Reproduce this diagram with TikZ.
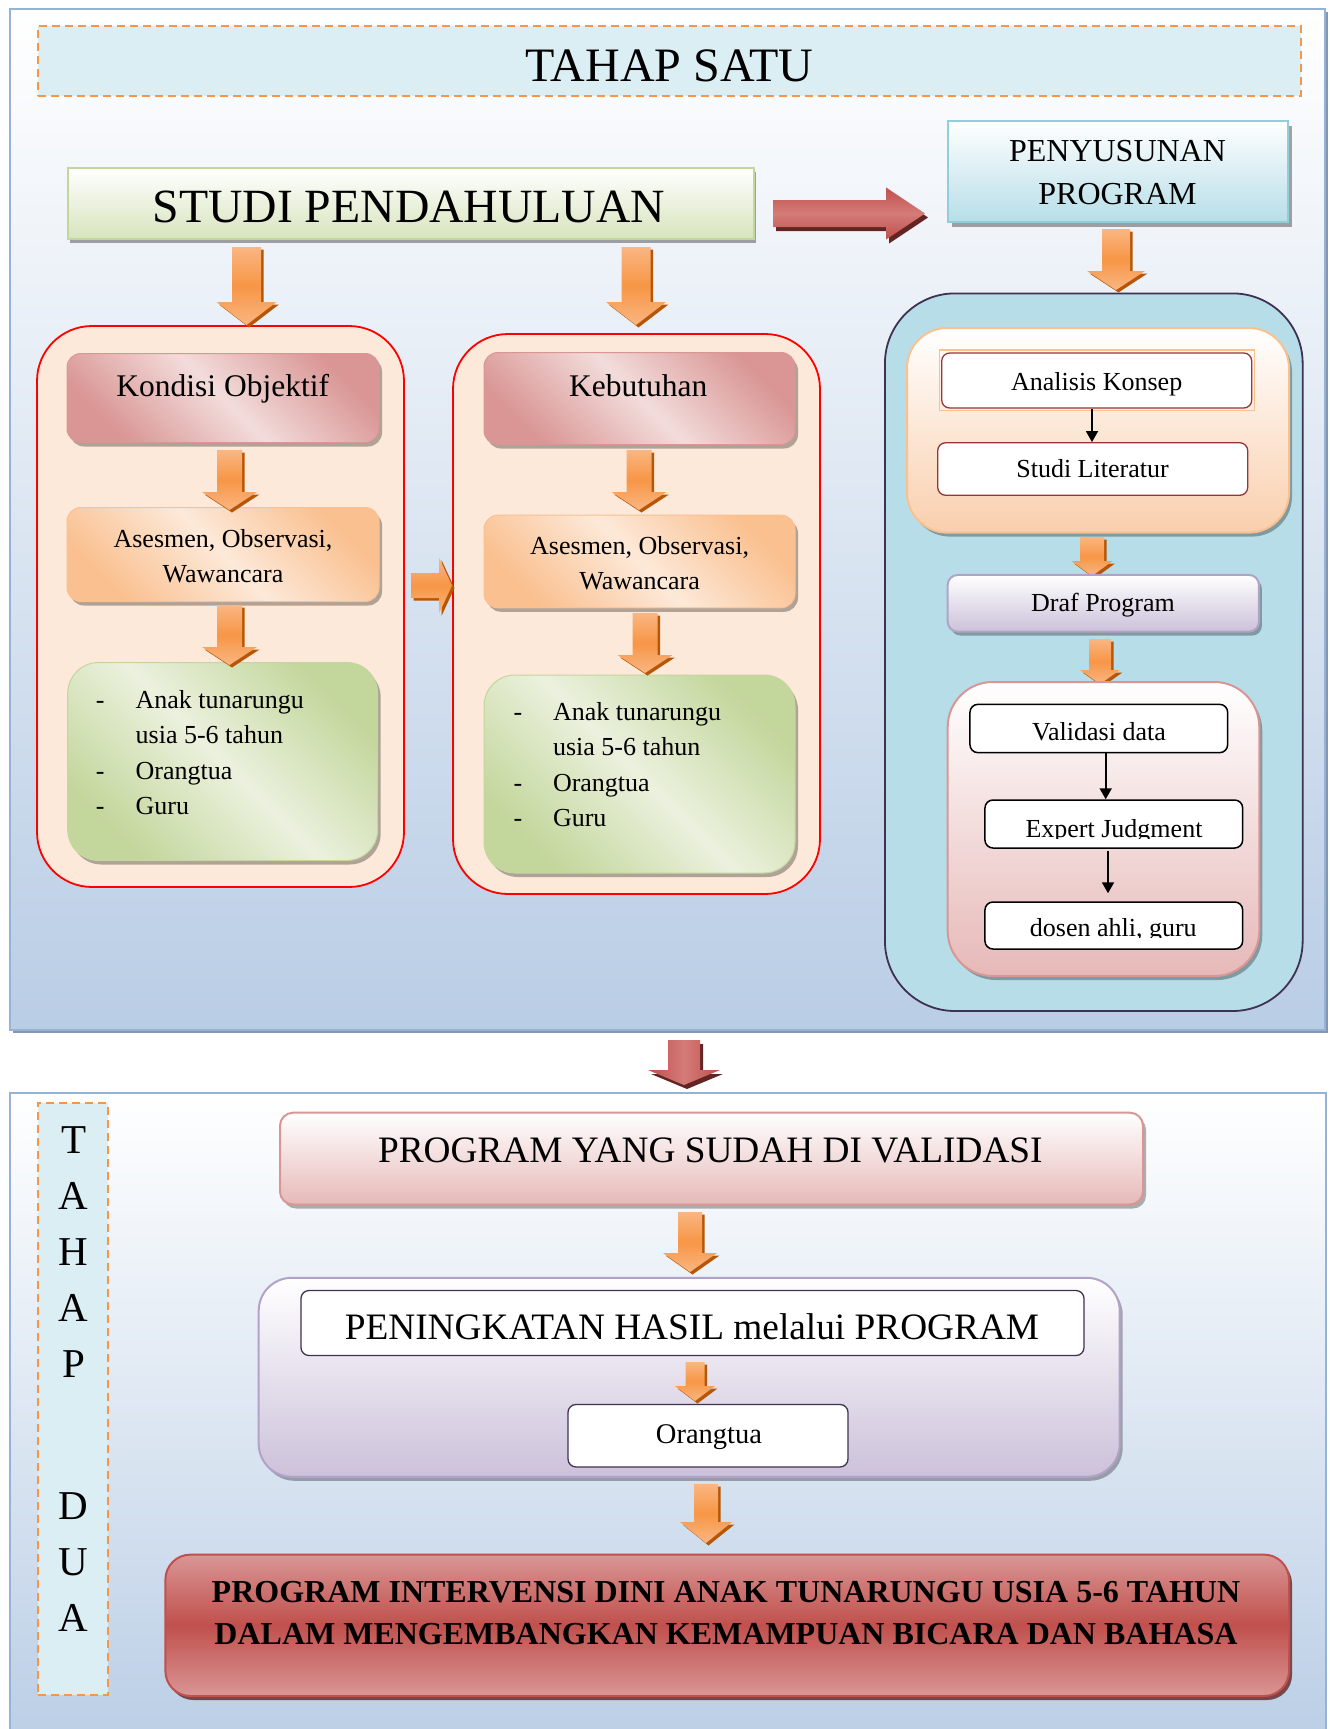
\documentclass[tikz,border=0pt]{standalone}
\usepackage{fontspec}
\setmainfont{Liberation Serif}
\usetikzlibrary{shadows,arrows.meta,calc}
\definecolor{cB9CDE5}{HTML}{B9CDE5}
\definecolor{c95B3D7}{HTML}{95B3D7}
\definecolor{c7F93AE}{HTML}{8397B2}
\definecolor{cDBEEF4}{HTML}{DBEEF4}
\definecolor{cF79646}{HTML}{F79646}
\definecolor{cFAB682}{HTML}{FAB682}
\definecolor{cB65708}{HTML}{B65708}
\definecolor{cD7E4BD}{HTML}{D7E4BD}
\definecolor{cC3D69B}{HTML}{C3D69B}
\definecolor{cEBF1DE}{HTML}{EBF1DE}
\definecolor{cB7DEE8}{HTML}{B7DEE8}
\definecolor{c92CDDC}{HTML}{92CDDC}
\definecolor{cFDE9D9}{HTML}{FDE9D9}
\definecolor{cD99694}{HTML}{D99694}
\definecolor{cF2DCDB}{HTML}{F2DCDB}
\definecolor{cFAC090}{HTML}{FAC090}
\definecolor{cF9CBA5}{HTML}{F9CFAD}
\definecolor{c3F3151}{HTML}{3F3151}
\definecolor{c953735}{HTML}{953735}
\definecolor{cCCC1DA}{HTML}{CCC1DA}
\definecolor{cB3A2C7}{HTML}{B3A2C7}
\definecolor{cE6B9B8}{HTML}{E6B9B8}
\definecolor{cC0504D}{HTML}{C0504D}
\definecolor{c632523}{HTML}{632523}
\definecolor{cD9827F}{HTML}{D47B78}
\newcommand{\fsz}[2]{\fontsize{#1}{#2}\selectfont}
% block arrow pointing down: cx, ytop, yhead, ytip, halfshaft, halfhead, style
\newcommand{\arrdown}[7]{\path[#7] ({#1-#5},#2) -- ({#1+#5},#2) -- ({#1+#5},#3) -- ({#1+#6},#3) -- (#1,#4) -- ({#1-#6},#3) -- ({#1-#5},#3) -- cycle;}
% block arrow pointing right: cy, xleft, xhead, xtip, halfshaft, halfhead, style
\newcommand{\arrright}[7]{\path[#7] (#2,{#1-#5}) -- (#3,{#1-#5}) -- (#3,{#1-#6}) -- (#4,#1) -- (#3,{#1+#6}) -- (#3,{#1+#5}) -- (#2,{#1+#5}) -- cycle;}
\begin{document}
\begin{tikzpicture}[x=1pt,y=-1pt,
  bx/.style={rectangle,inner sep=0pt},
  txt/.style={inner sep=0pt,anchor=base},
  shd/.style={drop shadow={shadow xshift=3pt,shadow yshift=-4pt,fill=black,opacity=0.3}},
  diag/.style 2 args={top color=#1,bottom color=#1,middle color=#2,shading angle=-45},
  orar/.style={top color=cFAB682,bottom color=cFAB682,middle color=cF79646,shading angle=0,
    drop shadow={shadow xshift=2.5pt,shadow yshift=-2.5pt,fill=cB65708,opacity=1}},
  rdarh/.style={top color=cC0504D,bottom color=cC0504D,middle color=cD9827F,shading angle=0,
    drop shadow={shadow xshift=3pt,shadow yshift=-4pt,fill=c632523,opacity=1}},
  rdarv/.style={left color=cC0504D,right color=cC0504D,middle color=cD9827F,
    drop shadow={shadow xshift=3pt,shadow yshift=-4pt,fill=c632523,opacity=1}},
  wbox/.style={bx,fill=white,rounded corners=8pt,line width=1.5pt},
  blk/.style={-{Triangle[length=11pt,width=12pt]},line width=1.8pt}
]
\useasboundingbox (0,0) rectangle (1330,1729);
\fill[white] (0,0) rectangle (1330,1729);

% ---------- panels ----------
\node[bx,minimum width=1315pt,minimum height=1021pt,top color=white,bottom color=cB9CDE5,
  draw=c95B3D7,line width=2pt,drop shadow={shadow xshift=3pt,shadow yshift=-3pt,fill=c7F93AE,opacity=1}]
  (p1) at (667.5,519.5) {};
\node[bx,minimum width=1316pt,minimum height=667pt,top color=white,bottom color=cB9CDE5,
  draw=c95B3D7,line width=2pt] (p2) at (668,1426.5) {};

% ---------- TAHAP SATU ----------
\node[bx,minimum width=1263pt,minimum height=70pt,fill=cDBEEF4,draw=cF79646,line width=2.5pt,
  dash pattern=on 8pt off 5pt] (ts) at (669.5,61) {};
\node[txt] (tst) at (669.5,81) {\fsz{48}{58}TAHAP SATU};

% ---------- STUDI PENDAHULUAN ----------
\node[bx,minimum width=686pt,minimum height=71pt,top color=white,bottom color=cD7E4BD,
  draw=cC3D69B,line width=2pt,drop shadow={shadow xshift=2pt,shadow yshift=-4pt,fill=black,opacity=0.35}]
  (studi) at (411,203.5) {};
\node[txt] (studit) at (409,222.5) {\fsz{47.7}{57}STUDI PENDAHULUAN};

% ---------- PENYUSUNAN PROGRAM ----------
\node[bx,minimum width=340pt,minimum height=101pt,top color=white,bottom color=cB7DEE8,
  draw=c92CDDC,line width=2pt,drop shadow={shadow xshift=4pt,shadow yshift=-5pt,fill=black,opacity=0.35}]
  (peny) at (1118,171.5) {};
\node[txt] (penyt) at (1117.5,161.5) {\fsz{32}{42.5}\begin{tabular}[t]{@{}c@{}}PENYUSUNAN\\PROGRAM\end{tabular}};

% red arrow studi -> penyusunan
\arrright{213.5}{773}{886}{925}{13.5}{26}{rdarh}

% ---------- Kondisi Objektif column ----------
\node[bx,minimum width=367pt,minimum height=561pt,fill=cFDE9D9,draw=red,line width=1.8pt,
  rounded corners=55pt] (ko) at (220.5,606.5) {};
\node[bx,minimum width=312pt,minimum height=89pt,diag={cD99694}{cF2DCDB},draw=cD99694,
  line width=1pt,rounded corners=14pt,shd] (kh) at (223,398) {};
\node[txt] (kht) at (222.7,396.7) {\fsz{31.5}{38}Kondisi Objektif};
\node[bx,minimum width=312pt,minimum height=94pt,diag={cFAC090}{cFDE9D9},draw=cFAC090,
  line width=1pt,rounded corners=14pt,shd] (ka) at (223,554.5) {};
\node[txt] (kat) at (223,547.3) {\fsz{26}{35.4}\begin{tabular}[t]{@{}c@{}}Asesmen, Observasi,\\Wawancara\end{tabular}};
\node[bx,minimum width=310pt,minimum height=198pt,diag={cC3D69B}{cEBF1DE},draw=cC3D69B,
  line width=1pt,rounded corners=31pt,shd] (kl) at (222.7,761.5) {};
\node[txt,anchor=base west] (klt) at (95.7,708) {\fsz{26}{35.5}\begin{tabular}[t]{@{}p{39.8pt}@{}l@{}}-&Anak tunarungu\\&usia 5-6 tahun\\-&Orangtua\\-&Guru\end{tabular}};

% ---------- Kebutuhan column ----------
\node[bx,minimum width=367pt,minimum height=560pt,fill=cFDE9D9,draw=red,line width=1.8pt,
  rounded corners=55pt] (kb) at (636.5,614) {};
\node[bx,minimum width=311pt,minimum height=92pt,diag={cD99694}{cF2DCDB},draw=cD99694,
  line width=1pt,rounded corners=14pt,shd] (bh) at (639.5,398.5) {};
\node[txt] (bht) at (638.2,396.5) {\fsz{31.5}{38}Kebutuhan};
\node[bx,minimum width=311pt,minimum height=92.6pt,diag={cFAC090}{cFDE9D9},draw=cFAC090,
  line width=1pt,rounded corners=14pt,shd] (ba) at (639.5,561.5) {};
\node[txt] (bat) at (639.6,554.2) {\fsz{26}{35.6}\begin{tabular}[t]{@{}c@{}}Asesmen, Observasi,\\Wawancara\end{tabular}};
\node[bx,minimum width=311pt,minimum height=198pt,diag={cC3D69B}{cEBF1DE},draw=cC3D69B,
  line width=1pt,rounded corners=31pt,shd] (bl) at (639.5,774) {};
\node[txt,anchor=base west] (blt) at (513.3,720) {\fsz{26}{35.6}\begin{tabular}[t]{@{}p{39.5pt}@{}l@{}}-&Anak tunarungu\\&usia 5-6 tahun\\-&Orangtua\\-&Guru\end{tabular}};

% orange arrows in left part
\arrdown{246.5}{247}{302}{325}{14.5}{30}{orar}
\arrdown{636}{247}{302}{325}{14.5}{30}{orar}
\arrdown{229.5}{450}{492}{510}{12.5}{27.5}{orar}
\arrdown{229.5}{605}{647}{665}{12.5}{27.5}{orar}
\arrdown{639}{450}{492}{510}{12.5}{27.5}{orar}
\arrdown{645}{613}{655}{673}{12.5}{27.5}{orar}
\arrright{585.5}{411}{439}{452}{12.5}{28}{orar}

% ---------- Right column ----------
\arrdown{1116}{229}{271}{290}{14}{29}{orar}
\node[bx,minimum width=417.7pt,minimum height=717.6pt,fill=cB7DEE8,draw=c3F3151,line width=1.8pt,
  rounded corners=70pt] (blue) at (1093.8,652.2) {};
\node[bx,minimum width=382pt,minimum height=204.6pt,top color=white,bottom color=cF9CBA5,
  draw=cFAC090,line width=2pt,rounded corners=40pt,shd] (orn) at (1098,430.3) {};
\node[bx,minimum width=315pt,minimum height=60.6pt,draw=cFAC090,line width=1.5pt] (akf) at (1096.8,380.3) {};
\node[wbox,minimum width=310pt,minimum height=55pt,draw=c953735,line width=1.3pt] (ak) at (1096.7,380.5) {};
\node[txt] (akt) at (1096.7,390) {\fsz{26}{32}Analisis Konsep};
\node[wbox,minimum width=310pt,minimum height=52.6pt,draw=c953735,line width=1.3pt] (sl) at (1092.7,469) {};
\node[txt] (slt) at (1092.5,477.6) {\fsz{26}{32}Studi Literatur};
\coordinate (xa) at (1092,0);
\draw[blk] (ak.south -| xa) -- (sl.north -| xa);

\arrdown{1092}{537}{561}{576}{12}{20.5}{orar}
\node[bx,minimum width=311.3pt,minimum height=56.7pt,top color=white,bottom color=cCCC1DA,
  draw=cB3A2C7,line width=2pt,rounded corners=10pt,shd] (dp) at (1103.3,603.3) {};
\node[txt] (dpt) at (1103,611.6) {\fsz{26}{32}Draf Program};
\arrdown{1100}{639}{670}{684}{11}{20}{orar}

\node[bx,minimum width=311.6pt,minimum height=294pt,top color=white,bottom color=cE6B9B8,
  draw=cD99694,line width=2pt,rounded corners=45pt,shd] (pk) at (1103.5,829) {};
\node[wbox,minimum width=257.7pt,minimum height=48.3pt,draw=black] (vd) at (1098.8,728.5) {};
\node[txt] (vdt) at (1099,740.8) {\fsz{26}{32}Validasi data};
\node[wbox,minimum width=257.7pt,minimum height=48pt,draw=black] (ej) at (1113.8,824) {};
\begin{scope}
\clip (986,801) rectangle (1242,838);
\node[txt] (ejt) at (1114,837) {\fsz{26}{32}Expert Judgment};
\end{scope}
\node[wbox,minimum width=257.7pt,minimum height=47pt,draw=black] (dg) at (1113.8,925.5) {};
\begin{scope}
\clip (986,903) rectangle (1242,937);
\node[txt] (dgt) at (1113.3,936) {\fsz{26}{32}dosen ahli, guru};
\end{scope}
\coordinate (xb) at (1105.7,0);
\coordinate (xc) at (1108,0);
\draw[blk] (vd.south -| xb) -- (ej.north -| xb);
\draw[blk] ($(ej.south -| xc)+(0,2)$) -- ($(dg.north -| xc)+(0,-8)$);

% ---------- between panels ----------
\arrdown{684}{1040}{1070}{1085}{16}{36}{rdarv}

% ---------- TAHAP DUA ----------
\node[bx,minimum width=69.7pt,minimum height=592pt,fill=cDBEEF4,draw=cF79646,line width=2.5pt,
  dash pattern=on 8pt off 5pt] (td) at (72.9,1398.8) {};
\node[txt] (tdt) at (73.8,1153) {\fsz{41}{56}\begin{tabular}[t]{@{}c@{}}T\\A\\H\\A\\P\\[86pt]D\\U\\A\end{tabular}};

\node[bx,minimum width=863pt,minimum height=91.8pt,top color=white,bottom color=cE6B9B8,
  draw=cD99694,line width=2pt,rounded corners=13pt,shd] (py) at (711.5,1158.6) {};
\node[txt] (pyt) at (710.4,1162.5) {\fsz{37.3}{44}PROGRAM YANG SUDAH DI VALIDASI};
\arrdown{690}{1212}{1253}{1272}{12}{27}{orar}

\node[bx,minimum width=861pt,minimum height=199pt,top color=white,bottom color=cCCC1DA,
  draw=cB3A2C7,line width=2pt,rounded corners=33pt,shd] (pu) at (689.2,1377.3) {};
\node[wbox,minimum width=783pt,minimum height=65pt,draw=c3F3151,line width=1.3pt] (ph) at (692.5,1323) {};
\node[txt] (pht) at (692,1339) {\fsz{37.3}{44}PENINGKATAN HASIL melalui PROGRAM};
\arrdown{695}{1362}{1386}{1401}{9.5}{20}{orar}
\node[wbox,minimum width=280pt,minimum height=62.5pt,draw=c3F3151,line width=1.3pt] (ot) at (708,1435.7) {};
\node[txt] (ott) at (709,1443) {\fsz{28.5}{34}Orangtua};
\arrdown{706}{1484}{1522}{1543}{12}{26}{orar}

\node[bx,minimum width=1123.6pt,minimum height=141.4pt,top color=cD99694,bottom color=cD99694,
  middle color=cC0504D,draw=cC0504D,line width=2pt,rounded corners=25pt,
  drop shadow={shadow xshift=3pt,shadow yshift=-4pt,fill=c632523,opacity=0.8}] (fin) at (727.2,1625.3) {};
\node[txt] (fint) at (726,1602.5) {\fsz{32}{41.5}\bfseries\begin{tabular}[t]{@{}c@{}}PROGRAM INTERVENSI DINI ANAK TUNARUNGU USIA 5-6 TAHUN\\DALAM MENGEMBANGKAN KEMAMPUAN BICARA DAN BAHASA\end{tabular}};
\end{tikzpicture}
\end{document}
